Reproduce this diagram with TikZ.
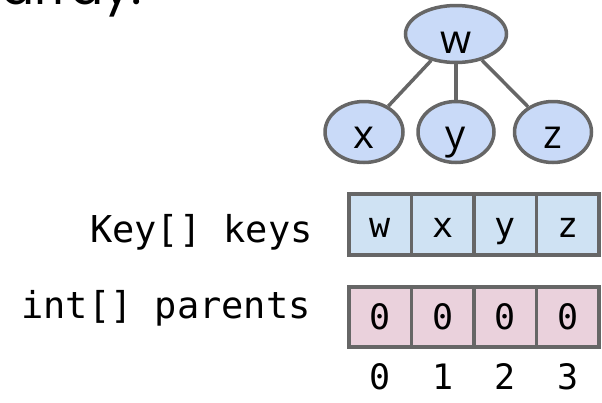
\documentclass[tikz,border=0pt]{standalone}
\usepackage{fontspec}
\setmainfont{Open Sans}
\setmonofont{DejaVu Sans Mono}
\newfontfamily\headfont{Poppins}
\usepackage{xcolor}
\usepackage{tikz}
\usetikzlibrary{shapes}
\definecolor{nodeblue}{HTML}{C9DAF8}
\definecolor{keyblue}{HTML}{CFE2F3}
\definecolor{parpink}{HTML}{EAD1DC}
\definecolor{edgegray}{HTML}{666666}
\tikzstyle{treenode} = [ellipse, draw=edgegray, line width=3.5pt, fill=nodeblue, inner sep=0pt, minimum height=61pt, text height=32pt, text depth=0pt, font=\fontsize{40}{42}\selectfont]
\tikzstyle{cell} = [rectangle, draw=edgegray, line width=3.5pt, inner sep=0pt, minimum width=62.5pt, text height=25pt, text depth=0pt, font=\ttfamily\fontsize{35}{37}\selectfont]
\tikzstyle{keycell} = [cell, fill=keyblue, minimum height=61pt]
\tikzstyle{parcell} = [cell, fill=parpink, minimum height=60pt]
\tikzstyle{label} = [anchor=base east, inner sep=0pt, font=\ttfamily\fontsize{37}{39}\selectfont]
\tikzstyle{index} = [inner sep=0pt, font=\ttfamily\fontsize{35}{37}\selectfont]
\tikzstyle{line} = [draw=edgegray, line width=3.5pt]

\begin{document}
\begin{tikzpicture}[x=1pt,y=-1pt]
\clip (0,0) rectangle (602,402);
\useasboundingbox (0,0) rectangle (602,402);
\node [anchor=base east, inner sep=0pt, font=\headfont\fontsize{49}{51}\selectfont] (head) at (142,4) {array.};
% tree
\node [treenode, minimum width=101pt, minimum height=57pt, text height=38pt] (w) at (456,34) {w};
\node [treenode, minimum width=78pt] (x) at (364,132) {x};
\node [treenode, minimum width=76pt] (y) at (456,132) {y};
\node [treenode, minimum width=77pt] (z) at (553,132) {z};
\path [line] (w) -- (x);
\path [line] (w) -- (y);
\path [line] (w) -- (z);
% arrays
\node [label] (keys-lbl) at (313,242) {Key[] keys};
\node [label] (par-lbl) at (311,318) {int[] parents};
\foreach \i/\k in {0/w,1/x,2/y,3/z} {
  \node [keycell] (key-\i) at (380.25+62.5*\i,224.5) {\k};
  \node [parcell] (par-\i) at (380.25+62.5*\i,317) {0};
  \node [index] (idx-\i) at (380.25+62.5*\i,377) {\i};
}
\end{tikzpicture}
\end{document}
